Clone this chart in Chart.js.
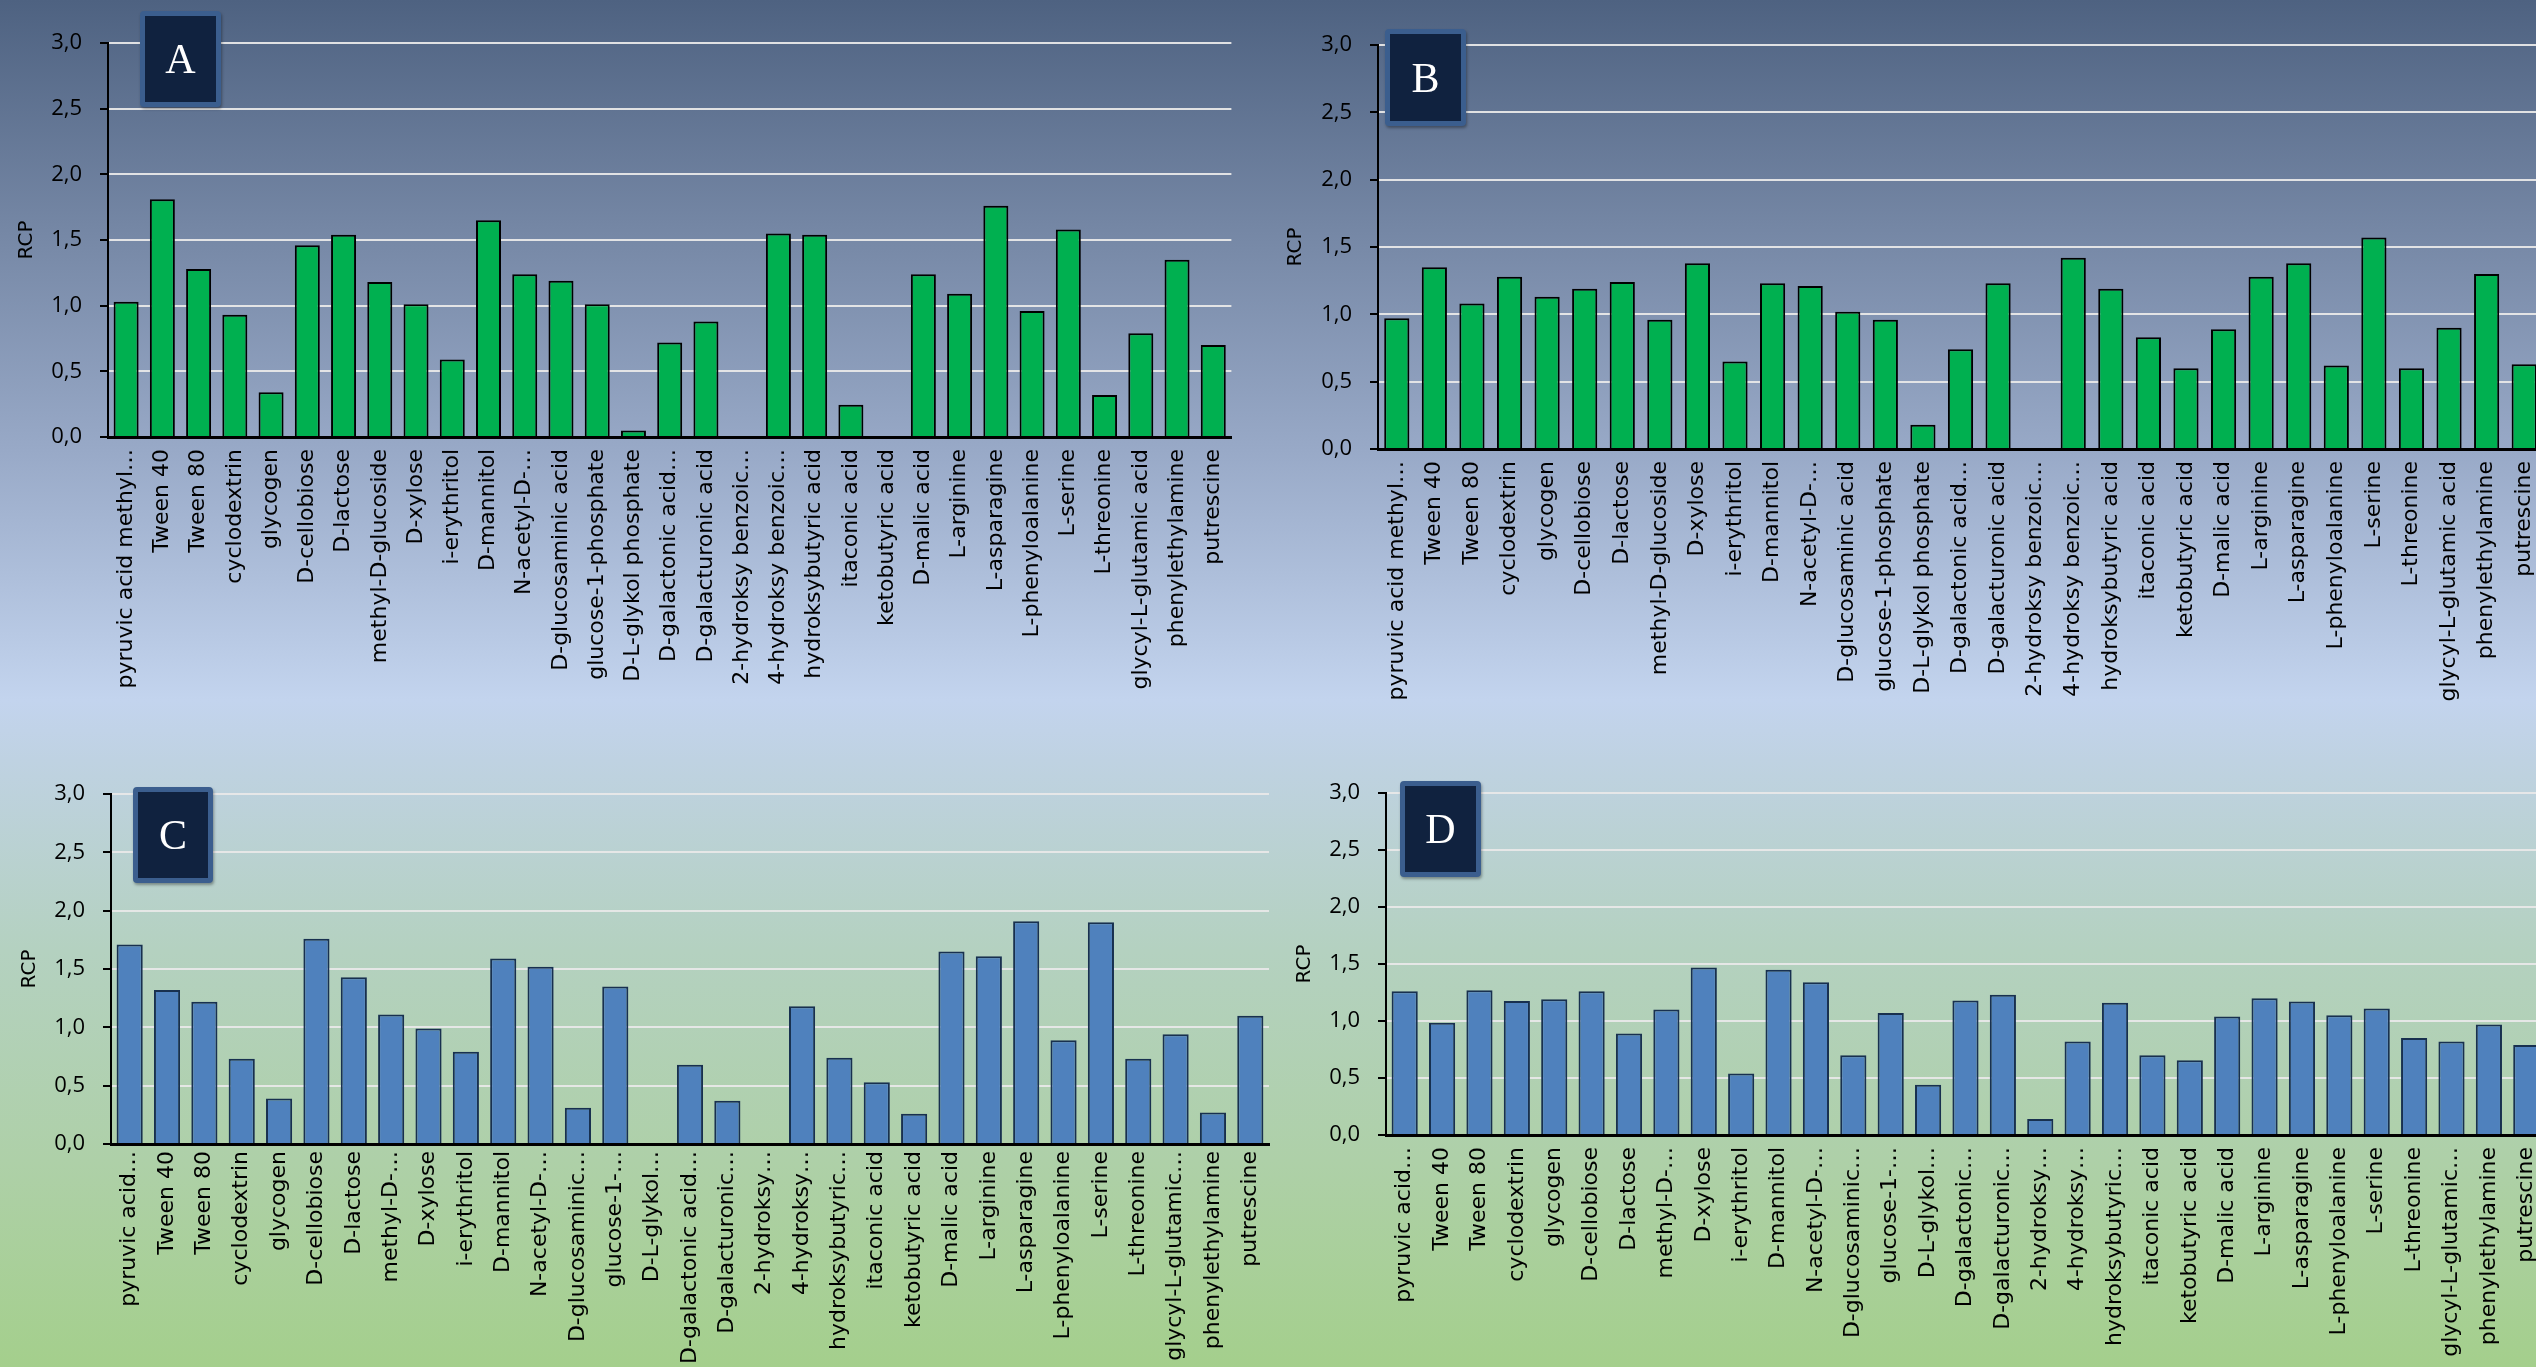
<!DOCTYPE html>
<html><head><meta charset="utf-8">
<script src="https://cdn.jsdelivr.net/npm/chart.js@4.4.1/dist/chart.umd.min.js"></script>
<style>
html,body{margin:0;padding:0;width:2536px;height:1367px;overflow:hidden;}
body{position:relative;background:linear-gradient(to bottom,#4e6281 0px,#7587a5 230px,#98a9c7 450px,#c3d4ee 700px,#bfd2e2 760px,#b4d1c0 950px,#aed0a8 1160px,#a4cf8c 1367px);}
canvas{position:absolute;}
.tag{position:absolute;box-sizing:border-box;border:5px solid #3b5e8e;background:#10223f;border-radius:4px;color:#fff;font-family:'Liberation Serif','DejaVu Serif',serif;font-size:42px;display:flex;align-items:center;justify-content:center;box-shadow:1px 2px 3px rgba(0,0,0,0.35);}
</style></head><body>
<canvas id="cA" width="1252" height="720" style="left:0px;top:0px"></canvas>
<canvas id="cB" width="1293" height="720" style="left:1270px;top:0px"></canvas>
<canvas id="cC" width="1289" height="627" style="left:0px;top:740px"></canvas>
<canvas id="cD" width="1295" height="627" style="left:1270px;top:740px"></canvas>
<div class="tag" style="left:140px;top:11px;width:81px;height:96px">A</div>
<div class="tag" style="left:1385px;top:29px;width:81px;height:97px">B</div>
<div class="tag" style="left:133px;top:787px;width:80px;height:96px">C</div>
<div class="tag" style="left:1400px;top:781px;width:81px;height:96px">D</div>
<script>
const labelsAB = ["pyruvic acid methyl…","Tween 40","Tween 80","cyclodextrin","glycogen","D-cellobiose","D-lactose","methyl-D-glucoside","D-xylose","i-erythritol","D-mannitol","N-acetyl-D-…","D-glucosaminic acid","glucose-1-phosphate","D-L-glykol phosphate","D-galactonic acid…","D-galacturonic acid","2-hydroksy benzoic…","4-hydroksy benzoic…","hydroksybutyric acid","itaconic acid","ketobutyric acid","D-malic acid","L-arginine","L-asparagine","L-phenyloalanine","L-serine","L-threonine","glycyl-L-glutamic acid","phenylethylamine","putrescine"];
const labelsC = ["pyruvic acid…","Tween 40","Tween 80","cyclodextrin","glycogen","D-cellobiose","D-lactose","methyl-D-…","D-xylose","i-erythritol","D-mannitol","N-acetyl-D-…","D-glucosaminic…","glucose-1-…","D-L-glykol…","D-galactonic acid…","D-galacturonic…","2-hydroksy…","4-hydroksy…","hydroksybutyric…","itaconic acid","ketobutyric acid","D-malic acid","L-arginine","L-asparagine","L-phenyloalanine","L-serine","L-threonine","glycyl-L-glutamic…","phenylethylamine","putrescine"];
const labelsD = ["pyruvic acid…","Tween 40","Tween 80","cyclodextrin","glycogen","D-cellobiose","D-lactose","methyl-D-…","D-xylose","i-erythritol","D-mannitol","N-acetyl-D-…","D-glucosaminic…","glucose-1-…","D-L-glykol…","D-galactonic…","D-galacturonic…","2-hydroksy…","4-hydroksy…","hydroksybutyric…","itaconic acid","ketobutyric acid","D-malic acid","L-arginine","L-asparagine","L-phenyloalanine","L-serine","L-threonine","glycyl-L-glutamic…","phenylethylamine","putrescine"];
const valuesA = [1.03,1.81,1.28,0.93,0.34,1.46,1.54,1.18,1.01,0.59,1.65,1.24,1.19,1.01,0.05,0.72,0.88,0,1.55,1.54,0.245,0,1.24,1.09,1.76,0.96,1.58,0.32,0.79,1.35,0.70];
const valuesB = [0.97,1.35,1.08,1.28,1.13,1.19,1.24,0.96,1.38,0.65,1.23,1.21,1.02,0.96,0.18,0.74,1.23,0,1.42,1.19,0.83,0.60,0.89,1.28,1.38,0.62,1.57,0.60,0.90,1.30,0.63];
const valuesC = [1.71,1.32,1.22,0.73,0.39,1.76,1.43,1.11,0.99,0.79,1.59,1.52,0.31,1.35,0,0.68,0.37,0,1.18,0.74,0.53,0.26,1.65,1.61,1.91,0.89,1.90,0.73,0.94,0.27,1.10];
const valuesD = [1.26,0.985,1.27,1.175,1.19,1.26,0.89,1.10,1.47,0.54,1.45,1.34,0.70,1.07,0.44,1.18,1.23,0.14,0.82,1.16,0.70,0.655,1.04,1.20,1.17,1.05,1.11,0.85,0.82,0.97,0.79];
const yTickLabels = ["0,0","0,5","1,0","1,5","2,0","2,5","3,0"];
const axisTitle = "RCP";

function makeChart(id, labels, values, fill, border, bw, lay) {
  new Chart(document.getElementById(id), {
    type: 'bar',
    data: { labels: labels, datasets: [{ data: values, backgroundColor: fill, borderColor: border, borderWidth: bw, barPercentage: lay.bar, categoryPercentage: 1.0 }] },
    options: {
      responsive: false, animation: false,
      layout: { padding: { top: lay.padTop, right: lay.padRight, left: 0, bottom: 0 } },
      plugins: { legend: { display: false }, tooltip: { enabled: false } },
      scales: {
        x: {
          grid: { display: false, drawTicks: false },
          border: { display: true, color: '#000', width: 3 },
          ticks: { autoSkip: false, minRotation: 90, maxRotation: 90, padding: lay.xPad, color: '#000', font: { family: 'DejaVu Sans', size: 22 } },
          afterFit: s => { s.height = lay.xH; }
        },
        y: {
          min: 0, max: 3,
          ticks: { stepSize: 0.5, padding: 18, color: '#000', font: { family: 'Open Sans', size: 22 }, callback: (v, i) => yTickLabels[i] },
          grid: { color: c => (c.tick && c.tick.value === 0) ? '#000' : 'rgba(232,232,232,0.95)', lineWidth: 2, tickLength: 8, tickColor: '#000', tickWidth: 2 },
          border: { display: true, color: '#000', width: 2 },
          title: { display: true, text: axisTitle, color: '#000', font: { family: 'DejaVu Sans', size: 20 }, padding: { top: lay.titlePad, bottom: 0 } },
          afterFit: s => { s.width = lay.yW; }
        }
      }
    }
  });
}
const green = '#00b050', blue = '#4f81bd';
makeChart('cA', labelsAB, valuesA, green, '#000', 2, { padTop: 43, padRight: 20, xH: 283, yW: 108, titlePad: 15, bar: 0.69, xPad: 12 });
makeChart('cB', labelsAB, valuesB, green, '#000', 2, { padTop: 45, padRight: 20, xH: 271, yW: 108, titlePad: 14, bar: 0.67, xPad: 12 });
makeChart('cC', labelsC, valuesC, blue, '#18304f', 2, { padTop: 54, padRight: 20, xH: 223, yW: 111, titlePad: 18, bar: 0.70, xPad: 7 });
makeChart('cD', labelsD, valuesD, blue, '#18304f', 2, { padTop: 53, padRight: 20, xH: 232, yW: 116, titlePad: 23, bar: 0.70, xPad: 12 });
</script>
</body></html>
